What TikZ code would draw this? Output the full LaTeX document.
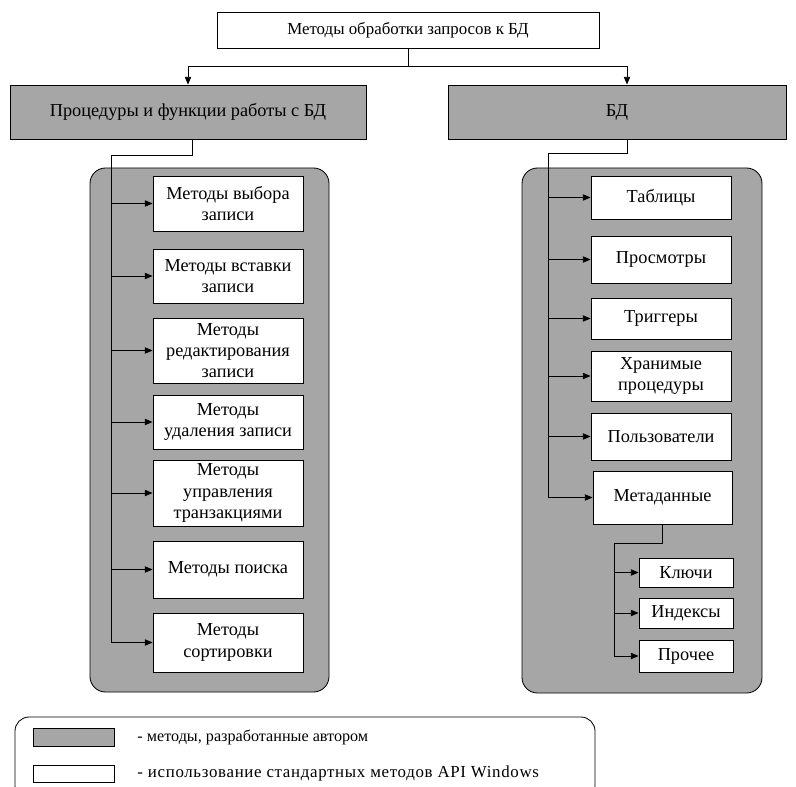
\documentclass[tikz,border=0pt]{standalone}
\usepackage{fontspec}
\setmainfont{Liberation Serif}
\usetikzlibrary{arrows.meta,positioning,calc}
\definecolor{pnl}{HTML}{A6A6A6}
\tikzset{
  box/.style={draw, fill=white, align=center, inner sep=0pt, font=\fontsize{13}{15}\selectfont},
  gbox/.style={box, fill=pnl},
  panel/.style={draw, fill=pnl, rounded corners=11pt},
  arr/.style={-{Triangle[length=5.5pt,width=4.5pt]}},
  legtxt/.style={anchor=west, inner sep=0pt, font=\fontsize{11.5}{15}\selectfont},
}

\begin{document}
\begin{tikzpicture}[x=0.025cm, y=-0.025cm, line width=0.6pt]
 \useasboundingbox (0,0) rectangle (796,787);
 \clip (0,0) rectangle (796,787);
 \draw[panel] (90,168) rectangle (329,692);
 \draw[panel] (522,168) rectangle (762,693);

 \node[box, font=\fontsize{12}{15}\selectfont, minimum width=9.55cm, minimum height=0.9cm] (top) at (408,30) {Методы обработки запросов к БД};
 \node[gbox, minimum width=8.9cm, minimum height=1.35cm] (proc) at (188,112) {Процедуры и функции работы с БД};
 \node[gbox, minimum width=8.45cm, minimum height=1.35cm] (bd) at (617,112) {БД};

 \node[box, minimum width=3.75cm, minimum height=1.375cm] (l1) at (228,203.5) {Методы выбора\\записи};
 \node[box, minimum width=3.75cm, minimum height=1.35cm] (l2) at (228,276) {Методы вставки\\записи};
 \node[box, minimum width=3.75cm, minimum height=1.625cm] (l3) at (228,350.5) {Методы\\редактирования\\записи};
 \node[box, minimum width=3.75cm, minimum height=1.35cm] (l4) at (228,422) {Методы\\удаления записи};
 \node[box, minimum width=3.75cm, minimum height=1.65cm] (l5) at (228,493) {Методы\\управления\\транзакциями};
 \node[box, minimum width=3.75cm, minimum height=1.425cm] (l6) at (228,569.5) {Методы поиска};
 \node[box, minimum width=3.75cm, minimum height=1.475cm] (l7) at (228,642.5) {Методы\\сортировки};

 \node[box, minimum width=3.5cm, minimum height=1.075cm] (r1) at (661,197.5) {Таблицы};
 \node[box, minimum width=3.5cm, minimum height=1.175cm] (r2) at (661,259.5) {Просмотры};
 \node[box, minimum width=3.5cm, minimum height=1.025cm] (r3) at (661,318.5) {Триггеры};
 \node[box, minimum width=3.5cm, minimum height=1.25cm] (r4) at (661,376) {Хранимые\\процедуры};
 \node[box, minimum width=3.5cm, minimum height=1.175cm] (r5) at (661,436.5) {Пользователи};
 \node[box, minimum width=3.475cm, minimum height=1.325cm] (meta) at (662.5,497.5) {Метаданные};
 \node[box, minimum width=2.35cm, minimum height=0.725cm] (k1) at (686,572.5) {Ключи};
 \node[box, minimum width=2.35cm, minimum height=0.75cm] (k2) at (686,613) {Индексы};
 \node[box, minimum width=2.35cm, minimum height=0.8cm] (k3) at (686,656) {Прочее};

 \draw[arr] (top.south) -- ++(0,18) -| (proc.north);
 \draw[arr] (top.south) -- ++(0,18) -| ([xshift=2.5mm]bd.north);

 \coordinate (lt) at (111,155);
 \draw ([xshift=1mm]proc.south) |- (lt) -- (lt |- l7.west);
 \draw[arr] (lt |- l1.west) -- (l1.west);
 \draw[arr] (lt |- l2.west) -- (l2.west);
 \draw[arr] (lt |- l3.west) -- (l3.west);
 \draw[arr] (lt |- l4.west) -- (l4.west);
 \draw[arr] (lt |- l5.west) -- (l5.west);
 \draw[arr] (lt |- l6.west) -- (l6.west);
 \draw[arr] (lt |- l7.west) -- (l7.west);

 \coordinate (rt) at (548,153);
 \draw ([xshift=2.5mm]bd.south) |- (rt) -- (rt |- meta.west);
 \draw[arr] (rt |- r1.west) -- (r1.west);
 \draw[arr] (rt |- r2.west) -- (r2.west);
 \draw[arr] (rt |- r3.west) -- (r3.west);
 \draw[arr] (rt |- r4.west) -- (r4.west);
 \draw[arr] (rt |- r5.west) -- (r5.west);
 \draw[arr] (rt |- meta.west) -- (meta.west);

 \coordinate (mt) at (614,543);
 \draw (meta.south) |- (mt) -- (mt |- k3.west);
 \draw[arr] (mt |- k1.west) -- (k1.west);
 \draw[arr] (mt |- k2.west) -- (k2.west);
 \draw[arr] (mt |- k3.west) -- (k3.west);

 \draw[rounded corners=10pt] (15,717) rectangle (595,800);
 \node[gbox, minimum width=2.025cm, minimum height=0.45cm] (lg1) at (73.5,737) {};
 \node[box, minimum width=2.025cm, minimum height=0.425cm] (lg2) at (73.5,773.5) {};
 \node[legtxt] (lt1) at (137,737) {- методы, разработанные автором};
 \node[legtxt, font=\fontsize{12}{15}\selectfont\addfontfeatures{LetterSpace=4}] (lt2) at (137,773.5) {- использование стандартных методов API Windows};
\end{tikzpicture}
\end{document}
